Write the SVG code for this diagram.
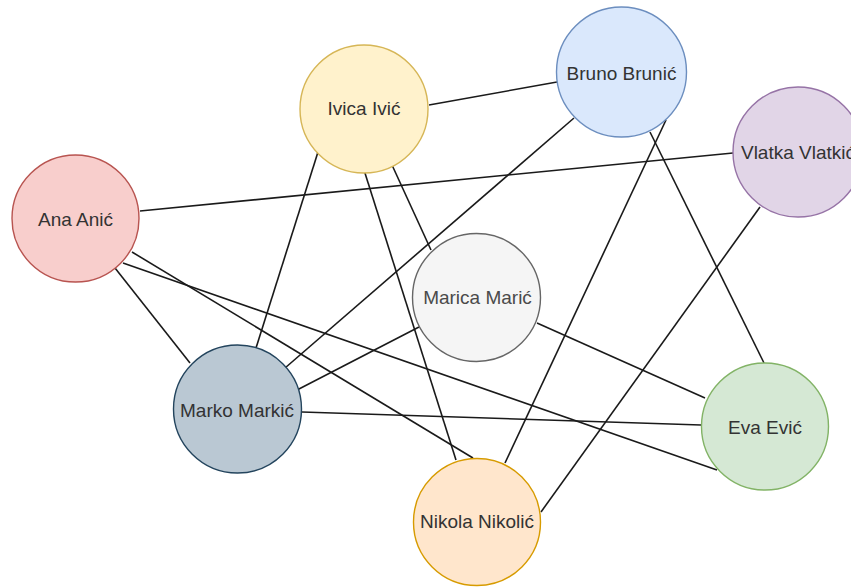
<svg xmlns="http://www.w3.org/2000/svg" width="851" height="587" viewBox="0 0 851 587">
<style>
.e{stroke:#1a1a1a;stroke-width:1.6;fill:none}
.n{stroke-width:1.4}
.t{font-family:"Liberation Sans",Arial,sans-serif;font-size:19px;fill:#333333;text-anchor:middle;dominant-baseline:central}
</style>
<rect width="851" height="587" fill="#ffffff"/>
<g id="connectors">
<line class="e" x1="429" y1="105" x2="557" y2="82"/>
<line class="e" x1="140" y1="211" x2="733" y2="153"/>
<line class="e" x1="318" y1="152" x2="256" y2="348"/>
<line class="e" x1="392" y1="165" x2="431" y2="250"/>
<line class="e" x1="364" y1="170" x2="456" y2="460"/>
<line class="e" x1="574" y1="118" x2="285" y2="368"/>
<line class="e" x1="666" y1="120" x2="505" y2="463"/>
<line class="e" x1="650" y1="132" x2="764" y2="363"/>
<line class="e" x1="760" y1="207" x2="541" y2="512"/>
<line class="e" x1="115" y1="268" x2="190" y2="363"/>
<line class="e" x1="132" y1="252" x2="473" y2="458"/>
<line class="e" x1="123" y1="263" x2="717" y2="470"/>
<line class="e" x1="297" y1="390" x2="419" y2="327"/>
<line class="e" x1="302" y1="412" x2="701" y2="425"/>
<line class="e" x1="537" y1="323" x2="705" y2="398"/>
</g>
<g id="ana">
<circle class="n" cx="75.5" cy="218.5" r="63.5" fill="#f8cecc" stroke="#b85450"/>
<text class="t" x="75.5" y="219">Ana Anić</text>
</g>
<g id="ivica">
<circle class="n" cx="364" cy="109" r="64" fill="#fff2cc" stroke="#d6b656"/>
<text class="t" x="364" y="108">Ivica Ivić</text>
</g>
<g id="bruno">
<circle class="n" cx="621.5" cy="72" r="65" fill="#dae8fc" stroke="#6c8ebf"/>
<text class="t" x="621.5" y="73">Bruno Brunić</text>
</g>
<g id="vlatka">
<circle class="n" cx="798" cy="152" r="65" fill="#e1d5e7" stroke="#9673a6"/>
<text class="t" x="798" y="152">Vlatka Vlatkić</text>
</g>
<g id="marica">
<circle class="n" cx="476.5" cy="297.5" r="64" fill="#f5f5f5" stroke="#666666"/>
<text class="t" x="477.5" y="297" style="fill:#4a4a4a">Marica Marić</text>
</g>
<g id="marko">
<circle class="n" cx="237.5" cy="409" r="64" fill="#bac8d3" stroke="#23445d"/>
<text class="t" x="237" y="410">Marko Markić</text>
</g>
<g id="eva">
<circle class="n" cx="765" cy="426.5" r="63.5" fill="#d5e8d4" stroke="#82b366"/>
<text class="t" x="765" y="427">Eva Ević</text>
</g>
<g id="nikola">
<circle class="n" cx="477" cy="522" r="63.5" fill="#ffe6cc" stroke="#d79b00"/>
<text class="t" x="477" y="521">Nikola Nikolić</text>
</g>
</svg>
